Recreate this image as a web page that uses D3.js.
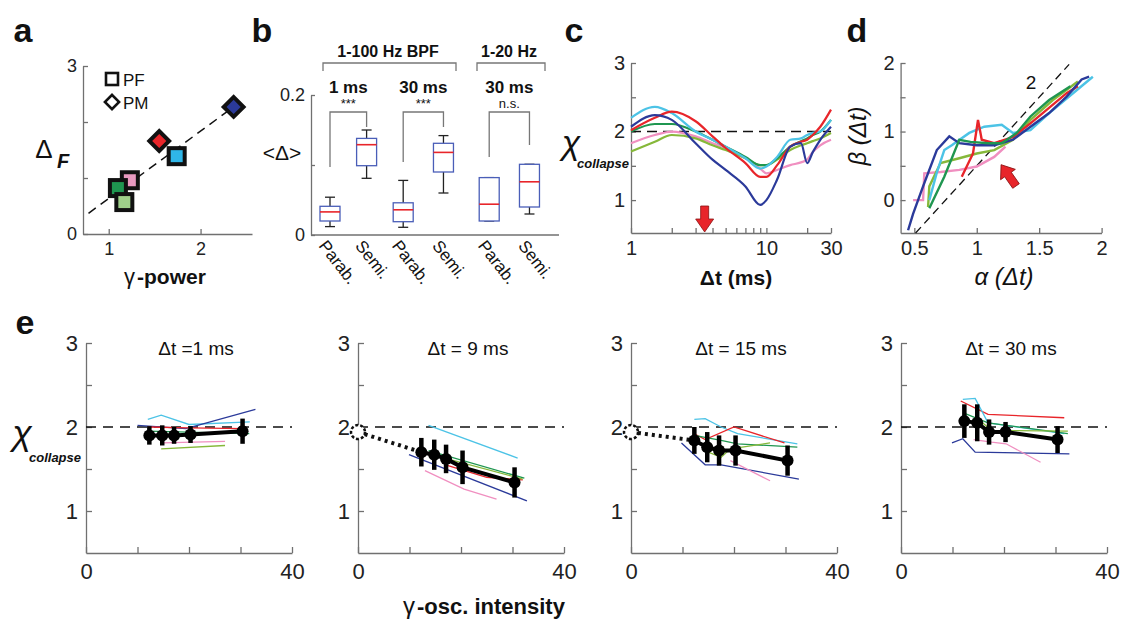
<!DOCTYPE html><html><head><meta charset="utf-8">
<script src="https://cdn.jsdelivr.net/npm/d3@7"></script>
<style>body{margin:0;background:#fff}text{font-family:"Liberation Sans",Arial,sans-serif}</style></head><body>
<svg id="s" width="1128" height="626"></svg>
<script>
const COL={navy:"#2b3a9a",red:"#e8252a",cyan:"#4cc3e6",dgreen:"#1f9650",lgreen:"#86b83a",pink:"#f08fc0"};
// panel a
const aPoints=[
 {x:2.36,y:2.27,shape:"d",c:"#2b3a9a"},{x:1.55,y:1.66,shape:"d",c:"#e8252a"},
 {x:1.74,y:1.39,shape:"s",c:"#2fb6e8"},{x:1.23,y:0.96,shape:"s",c:"#e99ac0"},
 {x:1.10,y:0.82,shape:"s",c:"#1f9650"},{x:1.17,y:0.57,shape:"s",c:"#9fd08a"}];
const aFit=[[0.78,0.37],[2.36,2.27]];
// panel b
const bCats=["Parab.","Semi.","Parab.","Semi.","Parab.","Semi."];
const bPos=[0,1,2,3.1,4.35,5.45];
const bBoxes=[[0.012,0.02,0.033,0.041,0.054],[0.081,0.099,0.129,0.138,0.15],[0.011,0.019,0.036,0.046,0.078],
 [0.06,0.09,0.118,0.131,0.142],[0.02,0.02,0.044,0.082,0.082],[0.03,0.04,0.076,0.101,0.101]];
// panel c
const cT=[1,1.5,2,3,4,5,7,9,10,12,15,18,20,22,25,30];
const cSeries=[
 {c:"pink",v:[1.83,1.95,2.0,1.93,1.83,1.76,1.61,1.46,1.39,1.44,1.51,1.55,1.59,1.7,1.8,1.88]},
 {c:"lgreen",v:[1.71,1.85,1.95,1.9,1.8,1.73,1.61,1.51,1.51,1.59,1.73,1.8,1.83,1.86,1.9,1.98]},
 {c:"dgreen",v:[2.0,2.11,2.11,2.0,1.88,1.78,1.63,1.51,1.51,1.61,1.78,1.86,1.9,1.95,2.0,2.17]},
 {c:"cyan",v:[2.2,2.36,2.27,2.0,1.88,1.78,1.61,1.46,1.49,1.63,1.88,1.9,1.95,1.98,2.0,2.17]},
 {c:"red",v:[2.02,2.2,2.29,2.15,1.93,1.76,1.54,1.34,1.34,1.51,1.78,1.85,1.88,1.95,2.07,2.32]},
 {c:"navy",v:[2.07,2.24,2.17,1.83,1.59,1.44,1.2,0.93,1.0,1.3,1.78,1.83,1.54,1.7,1.88,2.07]}];
// panel d
const dSeries=[
 {c:"pink",p:[[0.49,0],[0.57,0],[0.58,0.39],[0.71,0.41],[0.86,0.44],[1.0,0.49],[1.14,0.63],[1.23,0.78]]},
 {c:"lgreen",p:[[0.61,-0.1],[0.62,0.2],[0.71,0.54],[0.86,0.61],[1.0,0.68],[1.14,0.73],[1.29,0.88],[1.43,1.17],[1.61,1.46],[1.81,1.73]]},
 {c:"cyan",p:[[0.62,0],[0.68,0.4],[0.74,0.73],[0.8,0.8],[0.94,0.98],[1.06,1.07],[1.2,1.1],[1.29,0.98],[1.43,1.02],[1.6,1.3],[1.93,1.8]]},
 {c:"red",p:[[0.88,0.34],[0.97,0.68],[1.01,1.17],[1.04,0.88],[1.14,0.83],[1.29,0.92],[1.43,1.12],[1.72,1.56],[1.81,1.66]]},
 {c:"navy",p:[[0.45,-0.44],[0.49,-0.2],[0.57,0.2],[0.68,0.73],[0.78,0.93],[0.86,0.83],[1.0,0.8],[1.14,0.8],[1.29,0.88],[1.43,1.07],[1.58,1.27],[1.72,1.51],[1.84,1.76],[1.9,1.8]]},
 {c:"dgreen",p:[[0.62,-0.12],[0.74,0.34],[0.86,0.88],[0.95,0.85],[1.09,0.83],[1.2,0.83],[1.32,0.98],[1.43,1.22],[1.58,1.46],[1.75,1.66]]}];
// panel e
const eTitles=["Δt =1 ms","Δt = 9 ms","Δt = 15 ms","Δt = 30 ms"];
const eX=[12.3,14.8,17.1,20.3,30.4];
const eMean=[[1.9,1.9,1.9,1.91,1.95],[1.70,1.67,1.62,1.52,1.34],[1.84,1.76,1.72,1.72,1.60],[2.07,2.05,1.94,1.94,1.85]];
const eErr=[[0.11,0.12,0.1,0.1,0.15],[0.17,0.18,0.17,0.2,0.18],[0.16,0.18,0.18,0.18,0.18],[0.2,0.22,0.15,0.12,0.16]];
const eZero=[null,1.94,1.94,null];
const eLines=[
 [{c:"cyan",p:[[12,2.09],[14.6,2.14],[20,2.03],[31.8,2.06]]},{c:"navy",p:[[10,2.02],[19.4,1.98],[32.9,2.21]]},
  {c:"red",p:[[12,2.0],[20,1.99],[30.5,1.98]]},{c:"dgreen",p:[[12,1.95],[31.7,1.92]]},
  {c:"pink",p:[[14.8,1.81],[27,1.83]]},{c:"lgreen",p:[[14.6,1.74],[27,1.78]]}],
 [{c:"cyan",p:[[13.7,2.02],[31,1.63]]},{c:"navy",p:[[9.9,1.67],[32.8,1.12]]},
  {c:"pink",p:[[13,1.48],[20.6,1.26],[26.9,1.14]]},{c:"dgreen",p:[[13.7,1.72],[32.3,1.39]]},
  {c:"red",p:[[17,1.55],[25,1.4],[32,1.37]]},{c:"lgreen",p:[[15,1.66],[32,1.38]]}],
 [{c:"cyan",p:[[12.3,2.09],[14.4,2.1],[17.5,2.0],[20.7,1.92],[32.3,1.8]]},{c:"red",p:[[12.3,1.92],[14.4,1.85],[20,2.0],[29.8,1.81]]},
  {c:"navy",p:[[9.8,1.81],[14.4,1.55],[17.5,1.55],[32.6,1.38]]},{c:"pink",p:[[19.3,1.6],[27,1.36]]},
  {c:"dgreen",p:[[12.3,1.9],[17.5,1.84],[20.7,1.8],[32.3,1.76]]},{c:"lgreen",p:[[15,1.7],[17.5,1.64],[19.3,1.74],[27,1.81]]}],
 [{c:"red",p:[[11.6,2.31],[16.9,2.15],[31.7,2.11]]},{c:"cyan",p:[[12,2.33],[14.4,2.34],[16.9,2.05],[31.7,1.92]]},
  {c:"navy",p:[[9.9,1.81],[12,1.86],[14.4,1.7],[32.7,1.68]]},{c:"pink",p:[[14.1,1.85],[17.6,1.82],[20.4,1.8],[27.1,1.58]]},
  {c:"dgreen",p:[[12,2.17],[16.9,2.05],[32.4,1.92]]},{c:"lgreen",p:[[14.8,2.1],[17.6,1.96],[32.4,1.95]]}]];

const svg=d3.select("#s");
const AX="#707070";
function styleAxis(g){g.select(".domain").attr("stroke",AX).attr("stroke-width",1.3);g.selectAll(".tick line").attr("stroke",AX).attr("stroke-width",1.3);g.selectAll("text").attr("fill","#222").attr("font-family","Liberation Sans, Arial");}
function txt(x,y,s,o={}){const t=svg.append("text").attr("x",x).attr("y",y).text(s).attr("font-size",o.size||16).attr("text-anchor",o.anchor||"middle").attr("fill","#111");
 if(o.bold)t.attr("font-weight","bold");if(o.italic)t.attr("font-style","italic");if(o.family)t.attr("font-family",o.family);if(o.rot)t.attr("transform",`rotate(${o.rot},${x},${y})`);return t;}
[["a",23,42],["b",262,42],["c",574,42],["d",857,42],["e",25,334]].forEach(d=>txt(d[1],d[2],d[0],{size:34,bold:true}));

// ---- a
{const x=d3.scaleLinear().domain([0.72,2.56]).range([83,252]),y=d3.scaleLinear().domain([0,3]).range([234,66]);
 svg.append("g").attr("transform","translate(0,234)").call(d3.axisBottom(x).tickValues([1,2]).tickSizeInner(-5).tickSizeOuter(0).tickPadding(8).tickFormat(d3.format("d"))).call(styleAxis).selectAll("text").attr("font-size",18);
 svg.append("g").attr("transform","translate(83,0)").call(d3.axisLeft(y).tickValues([0,1,2,3]).tickSizeInner(-5).tickSizeOuter(0).tickPadding(6).tickFormat(d=>d%3===0?d:"")).call(styleAxis).selectAll("text").attr("font-size",18);
 svg.append("line").attr("x1",x(aFit[0][0])).attr("y1",y(aFit[0][1])).attr("x2",x(aFit[1][0])).attr("y2",y(aFit[1][1])).attr("stroke","#111").attr("stroke-width",1.5).attr("stroke-dasharray","9,6");
 aPoints.forEach(p=>{const g=svg.append("g").attr("transform",`translate(${x(p.x)},${y(p.y)})`+(p.shape==="d"?" rotate(45)":""));
  const s=p.shape==="d"?14:16;g.append("rect").attr("x",-s/2).attr("y",-s/2).attr("width",s).attr("height",s).attr("fill",p.c).attr("stroke","#111").attr("stroke-width",4);});
 svg.append("rect").attr("x",106).attr("y",73).attr("width",12).attr("height",12).attr("fill","none").attr("stroke","#111").attr("stroke-width",2.6);
 svg.append("rect").attr("x",107).attr("y",97).attr("width",10).attr("height",10).attr("fill","none").attr("stroke","#111").attr("stroke-width",2.6).attr("transform","rotate(45,112,102)");
 txt(123,86,"PF",{size:17,anchor:"start"});txt(123,109,"PM",{size:17,anchor:"start"});
 txt(44,158,"Δ",{size:26,family:"DejaVu Serif"});txt(63,168,"F",{size:20,bold:true,italic:true});
 txt(135,284,"γ",{size:22,family:"DejaVu Serif",anchor:"end"});txt(137,284,"-power",{size:21,bold:true,anchor:"start"});}

// ---- b
{const x=d3.scaleLinear().domain([0,1]).range([330,366.6]),y=d3.scaleLinear().domain([0,0.2]).range([235,95]);
 svg.append("line").attr("x1",311).attr("x2",559).attr("y1",235).attr("y2",235).attr("stroke",AX).attr("stroke-width",1.3);
 svg.append("g").attr("transform","translate(311,0)").call(d3.axisLeft(y).tickValues([0,0.1,0.2]).tickSizeInner(-4).tickSizeOuter(0).tickPadding(6).tickFormat(d=>d===0.1?"":d)).call(styleAxis).selectAll("text").attr("font-size",18);
 bBoxes.forEach((b,i)=>{const cx=x(bPos[i]),w=20;
  svg.append("line").attr("x1",cx).attr("x2",cx).attr("y1",y(b[0])).attr("y2",y(b[4])).attr("stroke","#222").attr("stroke-width",1.3);
  [b[0],b[4]].forEach(v=>svg.append("line").attr("x1",cx-5).attr("x2",cx+5).attr("y1",y(v)).attr("y2",y(v)).attr("stroke","#222").attr("stroke-width",1.3));
  svg.append("rect").attr("x",cx-w/2).attr("y",y(b[3])).attr("width",w).attr("height",y(b[1])-y(b[3])).attr("fill","#fff").attr("stroke","#4a5eb8").attr("stroke-width",1.3);
  svg.append("line").attr("x1",cx-w/2).attr("x2",cx+w/2).attr("y1",y(b[2])).attr("y2",y(b[2])).attr("stroke","#e8252a").attr("stroke-width",1.6);
  txt(cx-12,246,bCats[i],{size:17,anchor:"start",rot:52});});
 const br=(x1,x2,yy,h)=>svg.append("path").attr("d",`M${x1},${yy+h}V${yy}H${x2}V${yy+h}`).attr("fill","none").attr("stroke","#777").attr("stroke-width",1.3);
 br(323,456,63,8);br(477,545,63,8);
 txt(388,57,"1-100 Hz BPF",{size:16,bold:true});txt(509,57,"1-20 Hz",{size:16,bold:true});
 [[0,1,167,127,"1 ms","***"],[2,3,162,127,"30 ms","***"],[4,5,157,145,"30 ms","n.s."]].forEach(s=>{
  const x1=x(bPos[s[0]]),x2=x(bPos[s[1]]);
  svg.append("path").attr("d",`M${x1},${s[2]}V112H${x2}V${s[3]}`).attr("fill","none").attr("stroke","#777").attr("stroke-width",1.3);
  txt((x1+x2)/2,93,s[4],{size:17,bold:true});txt((x1+x2)/2,108,s[5],{size:13});});
 txt(282,160,"<Δ>",{size:21});}

// ---- c
{const x=d3.scaleLog().domain([1,30]).range([631,831]),y=d3.scaleLinear().domain([0.52,3]).range([233,63]);
 svg.append("g").attr("transform","translate(0,233)").call(d3.axisBottom(x).tickValues([1,2,3,4,5,6,7,8,9,10,20,30]).tickSizeInner(-5).tickSizeOuter(0).tickPadding(8).tickFormat(d=>[1,10,30].includes(d)?d:"")).call(styleAxis).selectAll("text").attr("font-size",20);
 svg.append("g").attr("transform","translate(631,0)").call(d3.axisLeft(y).tickValues([1,1.5,2,2.5,3]).tickSizeInner(-5).tickSizeOuter(0).tickPadding(6).tickFormat(d=>Number.isInteger(d)?d:"")).call(styleAxis).selectAll("text").attr("font-size",20);
 svg.append("line").attr("x1",631).attr("x2",831).attr("y1",y(2)).attr("y2",y(2)).attr("stroke","#111").attr("stroke-width",1.5).attr("stroke-dasharray","10,6");
 const ln=d3.line().x((d,i)=>x(cT[i])).y(d=>y(d)).curve(d3.curveMonotoneX);
 cSeries.forEach(s=>svg.append("path").attr("d",ln(s.v)).attr("fill","none").attr("stroke",COL[s.c]).attr("stroke-width",2.2));
 const ax=x(3.5);svg.append("path").attr("d",`M${ax-4},206H${ax+4}V219H${ax+9}L${ax},232L${ax-9},219H${ax-4}Z`).attr("fill","#e8252a").attr("stroke","#8a1010").attr("stroke-width",0.8);
 txt(571,154,"χ",{size:34,family:"DejaVu Serif",italic:true});txt(603,168,"collapse",{size:13,bold:true,italic:true});
 txt(736,285,"Δt (ms)",{size:21,bold:true});}

// ---- d
{const x=d3.scaleLinear().domain([0.39,2.0]).range([900.6,1101.6]),y=d3.scaleLinear().domain([-0.48,2]).range([233,63]);
 svg.append("g").attr("transform","translate(0,233)").call(d3.axisBottom(x).tickValues([0.5,1,1.5,2]).tickSizeInner(-5).tickSizeOuter(0).tickPadding(8).tickFormat(d=>d)).call(styleAxis).selectAll("text").attr("font-size",20);
 svg.append("g").attr("transform","translate(900.6,0)").call(d3.axisLeft(y).tickValues([0,0.5,1,1.5,2]).tickSizeInner(-5).tickSizeOuter(0).tickPadding(6).tickFormat(d=>Number.isInteger(d)?d:"")).call(styleAxis).selectAll("text").attr("font-size",20);
 const ref=[[0.51,-0.48],[1.74,1.98]];
 svg.append("line").attr("x1",x(ref[0][0])).attr("y1",y(ref[0][1])).attr("x2",x(ref[1][0])).attr("y2",y(ref[1][1])).attr("stroke","#111").attr("stroke-width",1.3).attr("stroke-dasharray","8,5");
 txt(1031,89,"2",{size:19});
 const ln=d3.line().x(d=>x(d[0])).y(d=>y(d[1]));
 dSeries.forEach(s=>svg.append("path").attr("d",ln(s.p)).attr("fill","none").attr("stroke",COL[s.c]).attr("stroke-width",2.4));
 svg.append("path").attr("d","M-4,0V-14H-9L0,-26L9,-14H4V0Z").attr("transform","translate(1016,186) rotate(-35)").attr("fill","#e8252a").attr("stroke","#8a1010").attr("stroke-width",0.8);
 txt(866,136,"β (Δt)",{size:24,family:"DejaVu Serif",italic:true,rot:-90});
 txt(1004,285,"α (Δt)",{size:24,family:"DejaVu Serif",italic:true});}

// ---- e
const eLeft=[86,358,631,901];
eLeft.forEach((L,k)=>{const x=d3.scaleLinear().domain([0,40]).range([L,L+206]),y=d3.scaleLinear().domain([0.5,3]).range([553,343]);
 svg.append("g").attr("transform","translate(0,553)").call(d3.axisBottom(x).tickValues([0,10,20,30,40]).tickSizeInner(-6).tickSizeOuter(0).tickPadding(10).tickFormat(d=>d%40===0?d:"")).call(styleAxis).selectAll("text").attr("font-size",22);
 svg.append("g").attr("transform",`translate(${L},0)`).call(d3.axisLeft(y).tickValues([1,1.5,2,2.5,3]).tickSizeInner(-6).tickSizeOuter(0).tickPadding(8).tickFormat(d=>Number.isInteger(d)?d:"")).call(styleAxis).selectAll("text").attr("font-size",22);
 svg.append("line").attr("x1",x(0)).attr("x2",x(40)).attr("y1",y(2)).attr("y2",y(2)).attr("stroke","#111").attr("stroke-width",1.5).attr("stroke-dasharray","10,7");
 txt(x(0)+110,355,eTitles[k],{size:19});
 const ln=d3.line().x(d=>x(d[0])).y(d=>y(d[1]));
 eLines[k].forEach(s=>svg.append("path").attr("d",ln(s.p)).attr("fill","none").attr("stroke",COL[s.c]).attr("stroke-width",1.3));
 if(eZero[k]!==null){svg.append("line").attr("x1",x(0)).attr("y1",y(eZero[k])).attr("x2",x(eX[0])).attr("y2",y(eMean[k][0])).attr("stroke","#111").attr("stroke-width",4).attr("stroke-dasharray","3,4");
  svg.append("circle").attr("cx",x(0)).attr("cy",y(eZero[k])).attr("r",7).attr("fill","#fff").attr("stroke","#111").attr("stroke-width",2.5).attr("stroke-dasharray","3,2");}
 svg.append("path").attr("d",d3.line().x((d,i)=>x(eX[i])).y(d=>y(d))(eMean[k])).attr("fill","none").attr("stroke","#000").attr("stroke-width",4);
 eMean[k].forEach((m,i)=>{svg.append("line").attr("x1",x(eX[i])).attr("x2",x(eX[i])).attr("y1",y(m-eErr[k][i])).attr("y2",y(m+eErr[k][i])).attr("stroke","#000").attr("stroke-width",4.5);
  svg.append("circle").attr("cx",x(eX[i])).attr("cy",y(m)).attr("r",6).attr("fill","#000");});});
txt(22,445,"χ",{size:36,family:"DejaVu Serif",italic:true});txt(55,462,"collapse",{size:13,bold:true,italic:true});
txt(415,614,"γ",{size:24,family:"DejaVu Serif",anchor:"end"});txt(417,614,"-osc. intensity",{size:22,bold:true,anchor:"start"});
</script></body></html>
